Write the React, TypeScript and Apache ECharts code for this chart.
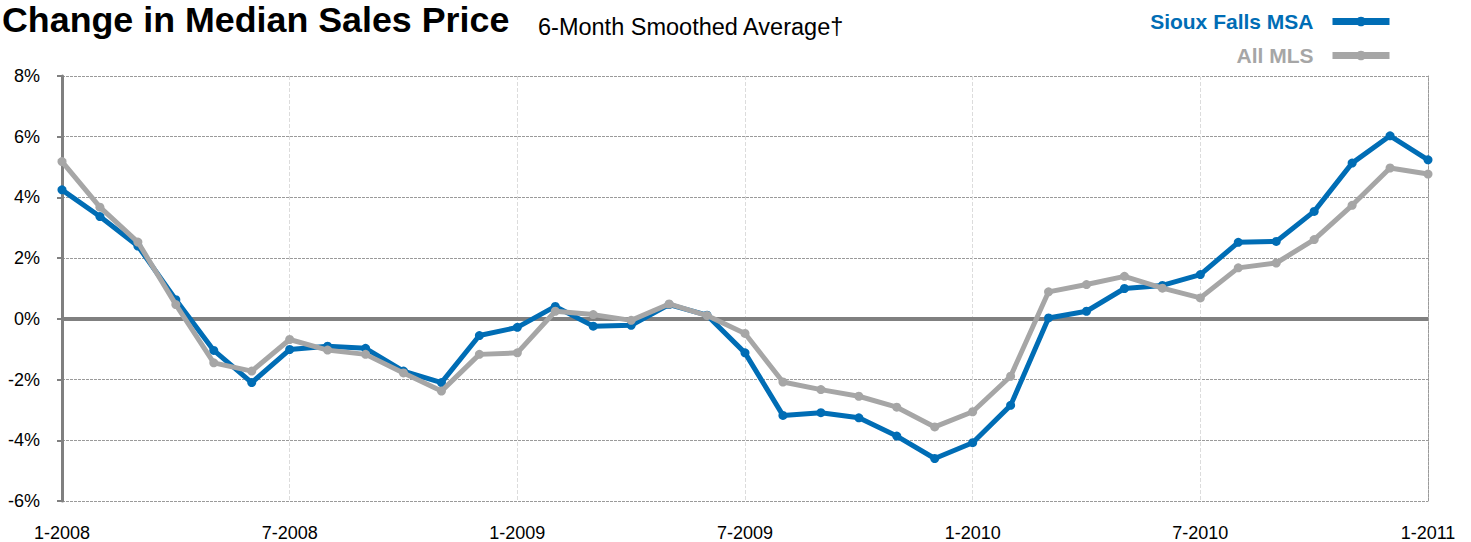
import React, { useEffect, useRef } from "react";
import * as echarts from "echarts";

const months: string[] = [];
for (let y = 2008; y <= 2011; y++) {
  for (let m = 1; m <= 12; m++) {
    if (y === 2011 && m > 1) break;
    months.push(`${m}-${y}`);
  }
}

const siouxFalls = [
  4.25, 3.37, 2.4, 0.63, -1.04, -2.1, -1.01, -0.9, -0.97, -1.72, -2.1, -0.55,
  -0.28, 0.41, -0.24, -0.21, 0.47, 0.12, -1.12, -3.18, -3.09, -3.26, -3.86, -4.6,
  -4.08, -2.85, 0.03, 0.25, 1.0, 1.1, 1.46, 2.52, 2.55, 3.54, 5.13, 6.03, 5.24,
];

const allMLS = [
  5.18, 3.68, 2.53, 0.47, -1.45, -1.72, -0.68, -1.03, -1.17, -1.78, -2.38, -1.17,
  -1.12, 0.25, 0.14, -0.05, 0.49, 0.11, -0.48, -2.08, -2.33, -2.55, -2.91, -3.56,
  -3.06, -1.89, 0.89, 1.13, 1.4, 1.01, 0.69, 1.68, 1.84, 2.61, 3.74, 4.97, 4.77,
];

const yMin = -6;
const yMax = 8;
const yStep = 2;

const BLUE = "#006DB5";
const GRAY = "#A6A6A6";
const FONT = "'Liberation Sans', Arial, sans-serif";

export default function App() {
  const ref = useRef<HTMLDivElement>(null);
  useEffect(() => {
    if (!ref.current) return;
    const chart = echarts.init(ref.current, undefined, { renderer: "svg" });
    const legendBase = {
      right: 73,
      align: "right",
      itemWidth: 57,
      itemHeight: 12,
      lineStyle: { width: 7 },
      itemStyle: { borderWidth: 0 },
    };
    chart.setOption({
      animation: false,
      backgroundColor: "#ffffff",
      textStyle: { fontFamily: FONT },
      title: [
        {
          text: "Change in Median Sales Price",
          left: -3,
          top: -3,
          textStyle: { fontSize: 35.8, fontWeight: "bold", color: "#000", fontFamily: FONT },
        },
        {
          text: "6-Month Smoothed Average†",
          left: 533,
          top: 10,
          textStyle: { fontSize: 23.5, fontWeight: "normal", color: "#000", fontFamily: FONT },
        },
      ],
      legend: [
        {
          ...legendBase,
          data: ["Sioux Falls MSA"],
          top: 6,
          textStyle: { color: BLUE, fontSize: 21, fontWeight: "bold", fontFamily: FONT, padding: [0, 14, 0, 0] },
        },
        {
          ...legendBase,
          data: ["All MLS"],
          top: 40,
          textStyle: { color: GRAY, fontSize: 21, fontWeight: "bold", fontFamily: FONT, padding: [0, 14, 0, 0] },
        },
      ],
      grid: { left: 62, right: 43, top: 76, bottom: 40, containLabel: false },
      xAxis: {
        type: "category",
        data: months,
        boundaryGap: false,
        axisLine: { show: false },
        axisTick: { show: false },
        axisLabel: { interval: 5, margin: 23, fontSize: 18, color: "#000", fontFamily: FONT },
        splitLine: { show: true, interval: 5, lineStyle: { color: "#dcdcdc", width: 1, type: [4, 2] } },
      },
      yAxis: [
        {
          type: "value",
          min: yMin,
          max: yMax,
          interval: yStep,
          axisLine: { show: true, lineStyle: { color: "#808080", width: 3 } },
          axisTick: { show: true, length: 5, lineStyle: { color: "#808080", width: 2 } },
          axisLabel: { formatter: "{value}%", margin: 22, fontSize: 18, color: "#000", fontFamily: FONT },
          splitLine: { show: true, lineStyle: { color: "#9a9a9a", width: 1, type: [3, 1] } },
        },
        {
          type: "value",
          position: "right",
          min: yMin,
          max: yMax,
          interval: yStep,
          axisLine: { show: true, lineStyle: { color: "#9a9a9a", width: 1, type: [3, 1] } },
          axisTick: { show: false },
          axisLabel: { show: false },
          splitLine: { show: false },
        },
      ],
      series: [
        {
          name: "zero",
          type: "line",
          data: [],
          z: 1,
          silent: true,
          markLine: {
            silent: true,
            symbol: "none",
            z: 1,
            label: { show: false },
            lineStyle: { color: "#808080", width: 4, type: "solid" },
            data: [{ yAxis: 0 }],
          },
        },
        {
          name: "Sioux Falls MSA",
          type: "line",
          data: siouxFalls,
          z: 3,
          symbol: "circle",
          symbolSize: 9,
          showSymbol: true,
          lineStyle: { color: BLUE, width: 5 },
          itemStyle: { color: BLUE },
        },
        {
          name: "All MLS",
          type: "line",
          data: allMLS,
          z: 4,
          symbol: "circle",
          symbolSize: 9,
          showSymbol: true,
          lineStyle: { color: GRAY, width: 5 },
          itemStyle: { color: GRAY },
        },
      ],
    });
    return () => chart.dispose();
  }, []);
  return (
    <div
      ref={ref}
      style={{ position: "fixed", left: 0, top: 0, width: 1471, height: 542 }}
    />
  );
}
